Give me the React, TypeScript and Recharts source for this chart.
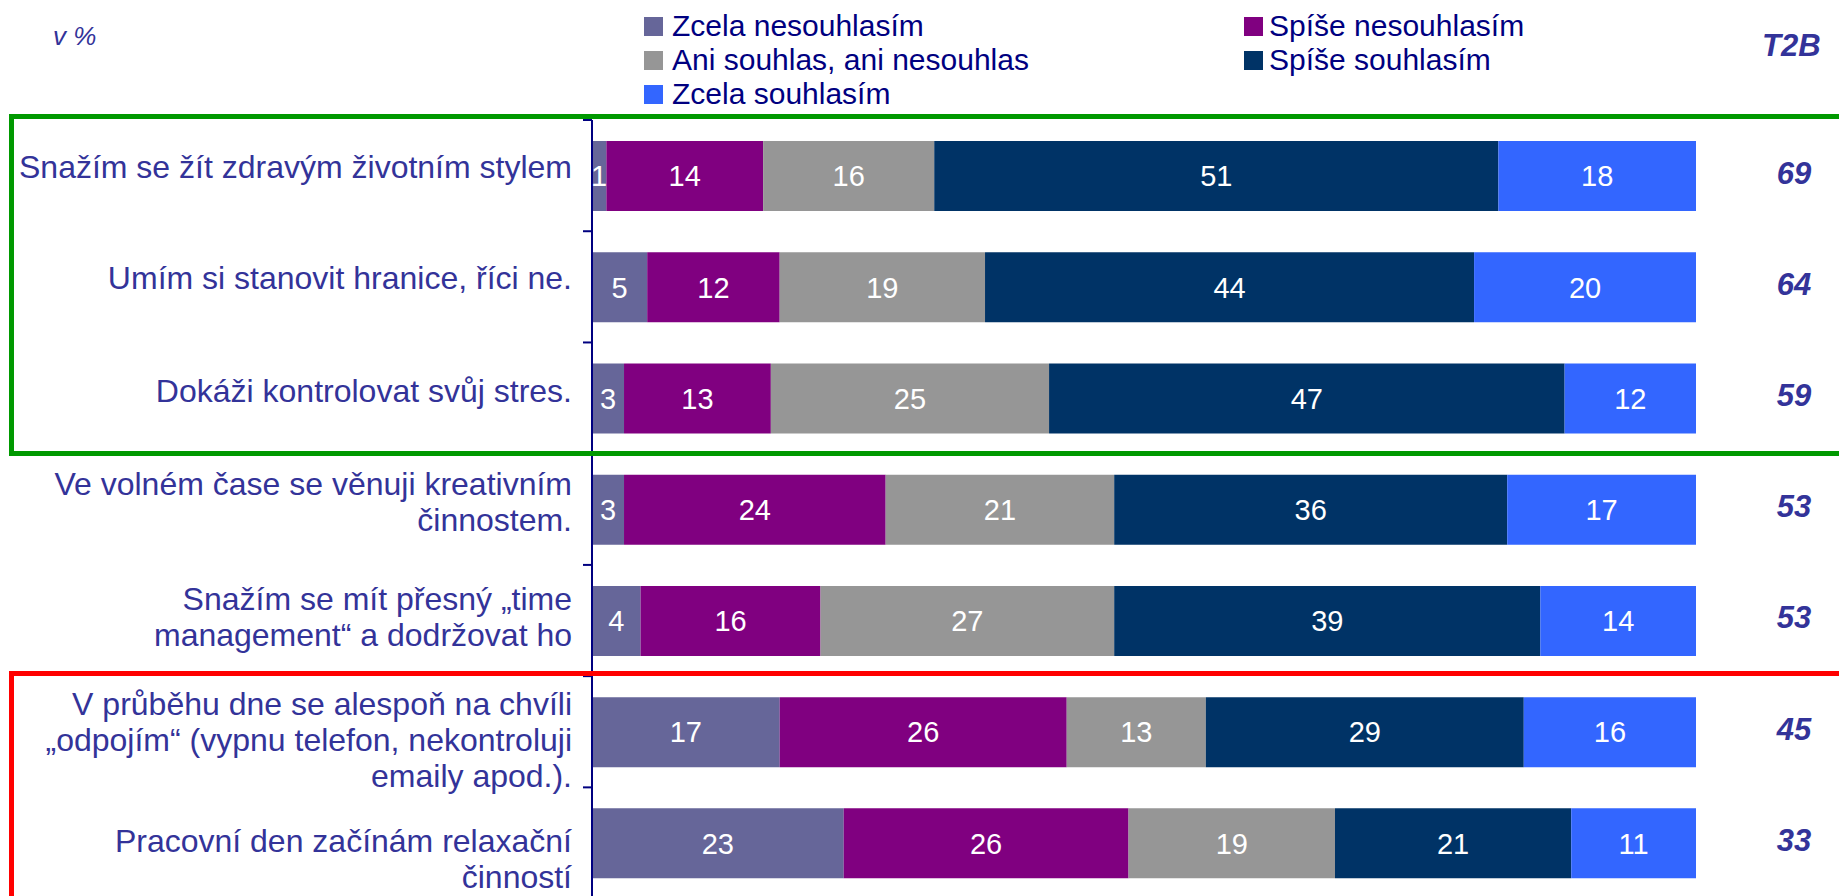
import React from 'react';
import { BarChart, Bar, XAxis, YAxis, LabelList } from 'recharts';

const categories = [
  'Snažím se žít zdravým životním stylem',
  'Umím si stanovit hranice, říci ne.',
  'Dokáži kontrolovat svůj stres.',
  'Ve volném čase se věnuji kreativním\nčinnostem.',
  'Snažím se mít přesný „time\nmanagement“ a dodržovat ho',
  'V průběhu dne se alespoň na chvíli\n„odpojím“ (vypnu telefon, nekontroluji\nemaily apod.).',
  'Pracovní den začínám relaxační\nčinností',
];

const zcelaNesouhlasim = [1.3, 5.0, 2.9, 2.9, 4.4, 17.0, 22.8];
const spiseNesouhlasim = [14.2, 12.0, 13.3, 23.7, 16.3, 26.0, 25.8];
const aniSouhlas = [15.5, 18.6, 25.2, 20.7, 26.6, 12.6, 18.7];
const spiseSouhlasim = [51.1, 44.3, 46.7, 35.6, 38.6, 28.8, 21.4];
const zcelaSouhlasim = [17.9, 20.1, 11.9, 17.1, 14.1, 15.6, 11.3];
const t2b = [69, 64, 59, 53, 53, 45, 33];

const seriesNames = [
  'Zcela nesouhlasím',
  'Spíše nesouhlasím',
  'Ani souhlas, ani nesouhlas',
  'Spíše souhlasím',
  'Zcela souhlasím',
];
const seriesKeys = ['s1', 's2', 's3', 's4', 's5'];
const seriesColors = ['#666699', '#800080', '#969696', '#003366', '#3366FF'];

// vertical nudge of each category label (the text boxes are not exactly centred on the bars)
const labelShift = [-9, -9, -7, -7, -4, 8, 16];

const data = categories.map((name, i) => ({
  name,
  s1: zcelaNesouhlasim[i],
  s2: spiseNesouhlasim[i],
  s3: aniSouhlas[i],
  s4: spiseSouhlasim[i],
  s5: zcelaSouhlasim[i],
}));

const FONT = '"Liberation Sans", Arial, sans-serif';
const CHART_W = 1839;
const CHART_H = 920;
const M_TOP = 120;
const M_BOTTOM = 21.4;
const BAND = (CHART_H - M_TOP - M_BOTTOM) / categories.length;

const CategoryTick = (props: any) => {
  const { x, y, payload, index } = props;
  const lines = String(payload.value).split('\n');
  const lh = 36;
  const start = y + (labelShift[index] || 0) - ((lines.length - 1) * lh) / 2;
  return (
    <g>
      <text fill="#333399" fontSize={32} fontFamily={FONT} textAnchor="end" dominantBaseline="central">
        {lines.map((l, i) => (
          <tspan key={i} x={x - 20} y={start + i * lh}>
            {l}
          </tspan>
        ))}
      </text>
      <line x1={x - 9} x2={x} y1={y - BAND / 2} y2={y - BAND / 2} stroke="#000080" strokeWidth={2} />
      {index === categories.length - 1 && (
        <line x1={x - 9} x2={x} y1={y + BAND / 2} y2={y + BAND / 2} stroke="#000080" strokeWidth={2} />
      )}
    </g>
  );
};

const T2BLabel = (props: any) => {
  const { x, y, width, height, index } = props;
  return (
    <text
      x={x + width + 98}
      y={y + height / 2 - 3}
      fill="#333399"
      fontSize={31}
      fontWeight="bold"
      fontStyle="italic"
      fontFamily={FONT}
      textAnchor="middle"
      dominantBaseline="central"
    >
      {t2b[index]}
    </text>
  );
};

export default function App() {
  return (
    <div
      style={{
        position: 'absolute',
        left: 0,
        top: 0,
        width: CHART_W,
        height: 896,
        overflow: 'hidden',
        fontFamily: FONT,
        background: '#fff',
      }}
    >
      <div style={{ position: 'absolute', left: 53, top: 21, fontSize: 26, fontStyle: 'italic', color: '#333399' }}>
        v %
      </div>
      <div
        style={{
          position: 'absolute',
          left: 1762,
          top: 28,
          fontSize: 31,
          fontWeight: 'bold',
          fontStyle: 'italic',
          color: '#333399',
        }}
      >
        T2B
      </div>
      <div
        style={{
          position: 'absolute',
          left: 644,
          top: 9,
          display: 'grid',
          gridTemplateColumns: '600px 500px',
          gridAutoRows: '34px',
        }}
      >
        {seriesNames.map((n, i) => (
          <div key={n} style={{ display: 'flex', alignItems: 'center', color: '#000080', fontSize: 30 }}>
            <span
              style={{
                display: 'inline-block',
                width: 19,
                height: 19,
                background: seriesColors[i],
                marginRight: i % 2 === 1 ? 6 : 9,
              }}
            />
            {n}
          </div>
        ))}
      </div>
      <div style={{ position: 'absolute', left: 0, top: 0 }}>
        <BarChart
          width={CHART_W}
          height={CHART_H}
          data={data}
          layout="vertical"
          margin={{ top: M_TOP, right: CHART_W - 1696, bottom: M_BOTTOM, left: 0 }}
          barSize={70}
        >
          <XAxis type="number" domain={[0, 100]} hide />
          <YAxis
            type="category"
            dataKey="name"
            width={592}
            tickLine={false}
            tickSize={0}
            tickMargin={0}
            axisLine={{ stroke: '#000080', strokeWidth: 2 }}
            tick={<CategoryTick />}
            interval={0}
          />
          {seriesKeys.map((k, i) => (
            <Bar key={k} dataKey={k} stackId="a" fill={seriesColors[i]} isAnimationActive={false}>
              <LabelList
                dataKey={k}
                position="center"
                fill="#fff"
                fontSize={29}
                fontFamily={FONT}
                formatter={(v: any) => Math.round(Number(v))}
              />
              {i === seriesKeys.length - 1 && <LabelList dataKey={k} content={<T2BLabel />} />}
            </Bar>
          ))}
        </BarChart>
      </div>
      <div
        style={{
          position: 'absolute',
          left: 9,
          top: 114,
          width: 1900,
          height: 332,
          border: '5px solid #009900',
          pointerEvents: 'none',
        }}
      />
      <div
        style={{
          position: 'absolute',
          left: 9,
          top: 671,
          width: 1900,
          height: 400,
          border: '5px solid #FF0000',
          pointerEvents: 'none',
        }}
      />
    </div>
  );
}
